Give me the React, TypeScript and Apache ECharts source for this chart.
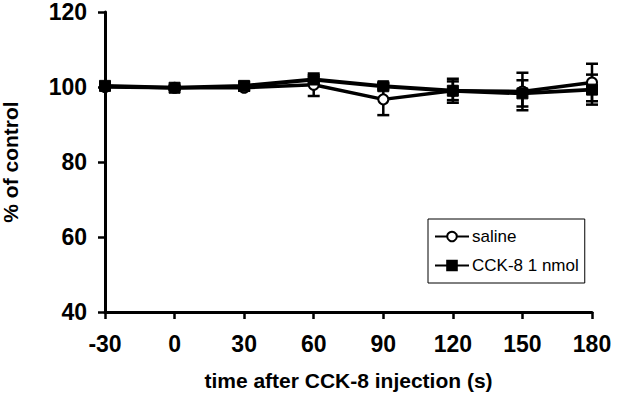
import React, { useEffect, useRef } from "react";
import * as echarts from "echarts";

const times = [-30, 0, 30, 60, 90, 120, 150, 180];
const salineMean = [100, 99.8, 99.8, 100.6, 96.7, 99, 98.8, 101.2];
const salineErr = [0.8, 0.5, 0.8, 3, 4.2, 3.2, 5, 5];
const cckMean = [100.3, 99.8, 100.3, 102, 100.2, 99, 98.3, 99.3];
const cckErr = [0.8, 0.5, 1, 0.8, 0.8, 2.5, 3.5, 4];
const yTicks = { min: 40, max: 120, interval: 20 };
const xTicks = { min: -30, max: 180, interval: 30 };

const FONT = "Liberation Sans, Arial, sans-serif";

function errSeries(name: string, means: number[], errs: number[]) {
  return {
    type: "custom",
    name: name + "-err",
    z: 1,
    silent: true,
    data: times.map((t, i) => [t, means[i] - errs[i], means[i] + errs[i]]),
    renderItem: (params: any, api: any) => {
      const x = api.value(0);
      const lo = api.coord([x, api.value(1)]);
      const hi = api.coord([x, api.value(2)]);
      const cap = 6;
      const style = { stroke: "#000", lineWidth: 2.5 };
      return {
        type: "group",
        children: [
          { type: "line", shape: { x1: lo[0], y1: lo[1], x2: hi[0], y2: hi[1] }, style },
          { type: "line", shape: { x1: lo[0] - cap, y1: lo[1], x2: lo[0] + cap, y2: lo[1] }, style },
          { type: "line", shape: { x1: hi[0] - cap, y1: hi[1], x2: hi[0] + cap, y2: hi[1] }, style },
        ],
      };
    },
  };
}

export default function App() {
  const ref = useRef<HTMLDivElement>(null);
  useEffect(() => {
    if (!ref.current) return;
    const chart = echarts.init(ref.current, undefined, { renderer: "svg" });
    chart.setOption({
      animation: false,
      backgroundColor: "#fff",
      grid: { left: 105, right: 48, top: 12, bottom: 100, outerBoundsMode: "none", containLabel: false },
      xAxis: {
        type: "value",
        min: xTicks.min,
        max: xTicks.max,
        interval: xTicks.interval,
        name: "time after CCK-8 injection (s)",
        nameLocation: "middle",
        nameGap: 58,
        nameTextStyle: { fontFamily: FONT, fontWeight: "bold", fontSize: 21, color: "#000" },
        axisLine: { onZero: false, lineStyle: { color: "#000", width: 3 } },
        axisTick: { show: true, length: 7, inside: false, lineStyle: { color: "#000", width: 2.5 } },
        axisLabel: { fontFamily: FONT, fontWeight: "bold", fontSize: 23, color: "#000", margin: 20 },
        splitLine: { show: false },
      },
      yAxis: {
        type: "value",
        min: yTicks.min,
        max: yTicks.max,
        interval: yTicks.interval,
        name: "% of control",
        nameLocation: "middle",
        nameRotate: 90,
        nameGap: 84,
        nameTextStyle: { fontFamily: FONT, fontWeight: "bold", fontSize: 21, color: "#000" },
        axisLine: { show: true, onZero: false, lineStyle: { color: "#000", width: 3 } },
        axisTick: { show: true, length: 7, inside: false, lineStyle: { color: "#000", width: 2.5 } },
        axisLabel: { fontFamily: FONT, fontWeight: "bold", fontSize: 23, color: "#000", margin: 18 },
        splitLine: { show: false },
      },
      legend: {
        orient: "vertical",
        left: 428,
        top: 219,
        width: 160,
        data: ["saline", "CCK-8 1 nmol"],
        borderColor: "#000",
        borderWidth: 1,
        borderRadius: 0,
        padding: [9, 6, 9, 6],
        itemGap: 12,
        itemWidth: 34,
        itemHeight: 12,
        textStyle: { fontFamily: FONT, fontSize: 17, color: "#000", padding: [0, 0, 0, -2] },
      },
      series: [
        errSeries("saline", salineMean, salineErr),
        errSeries("cck", cckMean, cckErr),
        {
          type: "line",
          name: "saline",
          data: times.map((t, i) => [t, salineMean[i]]),
          symbol: "circle",
          symbolSize: 10,
          z: 3,
          lineStyle: { color: "#000", width: 3.5 },
          itemStyle: { color: "#fff", borderColor: "#000", borderWidth: 2 },
        },
        {
          type: "line",
          name: "CCK-8 1 nmol",
          data: times.map((t, i) => [t, cckMean[i]]),
          symbol: "rect",
          symbolSize: 11,
          z: 4,
          lineStyle: { color: "#000", width: 4 },
          itemStyle: { color: "#000", borderColor: "#000", borderWidth: 1 },
        },
      ],
    });
    return () => chart.dispose();
  }, []);
  return (
    <div
      ref={ref}
      style={{ position: "absolute", left: 0, top: 0, width: 640, height: 412 }}
    />
  );
}
